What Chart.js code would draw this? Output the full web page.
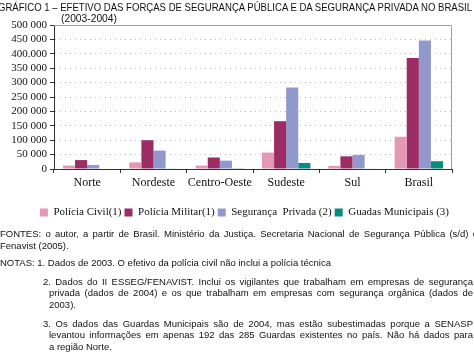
<!DOCTYPE html>
<html>
<head>
<meta charset="utf-8">
<script src="https://cdn.jsdelivr.net/npm/chart.js@4.4.1/dist/chart.umd.min.js"></script>
<style>
  body { margin: 0; width: 474px; height: 353px; background: #fff; overflow: hidden; position: relative; }
  #wrap { position: absolute; left: 0; top: 0; width: 474px; height: 230px; }
  .t { position: absolute; white-space: nowrap; font-family: "Liberation Sans", Arial, sans-serif; color: #111; }
  .title { font-size: 11px; transform-origin: 0 50%; }
  .note { font-size: 9.5px; line-height: 12px; }
  .just { text-align: justify; text-align-last: justify; white-space: normal; }
</style>
</head>
<body>
<div id="wrap"><canvas id="barChart"></canvas></div>

<div class="t title" id="t1" style="left:-2px; top:1px;">GRÁFICO 1 – EFETIVO DAS FORÇAS DE SEGURANÇA PÚBLICA E DA SEGURANÇA PRIVADA NO BRASIL</div>
<div class="t title" id="t2" style="left:61px; top:12px;">(2003-2004)</div>

<div class="t note just" style="left:0; top:228px; width:478px;">FONTES: o autor, a partir de Brasil. Ministério da Justiça. Secretaria Nacional de Segurança Pública (s/d) e</div>
<div class="t note" style="left:0; top:240px;">Fenavist (2005).</div>
<div class="t note" style="left:0; top:257px;">NOTAS: 1. Dados de 2003. O efetivo da polícia civil não inclui a polícia técnica</div>
<div class="t note just" style="left:43px; top:276px; width:430px;">2. Dados do II ESSEG/FENAVIST. Inclui os vigilantes que trabalham em empresas de segurança</div>
<div class="t note just" style="left:49px; top:287px; width:424px;">privada (dados de 2004) e os que trabalham em empresas com segurança orgânica (dados de</div>
<div class="t note" style="left:49px; top:299px;">2003).</div>
<div class="t note just" style="left:43px; top:318px; width:430px;">3. Os dados das Guardas Municipais são de 2004, mas estão subestimadas porque a SENASP</div>
<div class="t note just" style="left:49px; top:329px; width:424px;">levantou informações em apenas 192 das 285 Guardas existentes no país. Não há dados para</div>
<div class="t note" style="left:49px; top:341px;">a região Norte.</div>

<script>
// squeeze the title to the width it has in the print
const t1 = document.getElementById('t1');
t1.style.transform = 'scaleX(' + (474 / t1.offsetWidth) + ')';
const t2 = document.getElementById('t2');
t2.style.transform = 'scaleX(' + (56 / t2.offsetWidth) + ')';

const categories = ['Norte', 'Nordeste', 'Centro-Oeste', 'Sudeste', 'Sul', 'Brasil'];
const policiaCivil = [12000, 23000, 12000, 57000, 11000, 112000];
const policiaMilitar = [31000, 100000, 40000, 166000, 44000, 385000];
const segurancaPrivada = [14000, 64000, 29000, 283000, 49000, 446000];
const guardasMunicipais = [null, 2000, 1000, 21000, 1500, 27000];
const yTickLabels = ['0', '50 000', '100 000', '150 000', '200 000', '250 000', '300 000', '350 000', '400.000', '450 000', '500 000'];

const serif = "'Liberation Serif', 'Times New Roman', serif";
Chart.defaults.font.family = serif;

const frame = {
    id: 'frame',
    afterDraw(chart) {
        const a = chart.chartArea;
        const c = chart.ctx;
        c.save();
        c.strokeStyle = '#a0a0a0';
        c.lineWidth = 1;
        c.beginPath();
        c.moveTo(a.left, a.top + 0.5);
        c.lineTo(a.right - 0.5, a.top + 0.5);
        c.lineTo(a.right - 0.5, a.bottom);
        c.stroke();
        c.restore();
    }
};

const ctx = document.getElementById('barChart').getContext('2d');
const myChart = new Chart(ctx, {
    type: 'bar',
    data: {
        labels: categories,
        datasets: [
            { label: 'Polícia Civil(1)', data: policiaCivil, backgroundColor: '#e597b6' },
            { label: 'Polícia Militar(1)', data: policiaMilitar, backgroundColor: '#9c2c64' },
            { label: 'Segurança  Privada (2)', data: segurancaPrivada, backgroundColor: '#9199cc' },
            { label: 'Guadas Municipais (3)', data: guardasMunicipais, backgroundColor: '#0b8a80' }
        ]
    },
    options: {
        responsive: true,
        maintainAspectRatio: false,
        animation: false,
        layout: { padding: { left: 0, right: 22, top: 25, bottom: 2 } },
        datasets: { bar: { categoryPercentage: 0.73, barPercentage: 1.0, borderWidth: 0 } },
        plugins: {
            tooltip: { enabled: false },
            legend: {
                position: 'bottom',
                align: 'end',
                labels: {
                    boxWidth: 8,
                    boxHeight: 8,
                    padding: 3,
                    color: '#111',
                    font: { family: serif, size: 11 }
                }
            }
        },
        scales: {
            x: {
                afterFit(scale) { scale.height = 35; },
                grid: { drawOnChartArea: false, drawTicks: true, tickLength: 4, tickColor: '#333', offset: true },
                border: { color: '#333', width: 1 },
                ticks: { color: '#111', padding: 3, autoSkip: false, maxRotation: 0, minRotation: 0, font: { family: serif, size: 12 } }
            },
            y: {
                min: 0,
                max: 500000,
                afterFit(scale) { scale.width = 54; },
                grid: { color: '#bdbdbd', lineWidth: 1, tickColor: '#333', tickLength: 4 },
                border: { color: '#333', width: 1, dash: [1, 4] },
                ticks: {
                    stepSize: 50000,
                    autoSkip: false,
                    padding: 3,
                    color: '#111',
                    font: { family: serif, size: 11 },
                    callback: (value, index) => yTickLabels[index]
                }
            }
        }
    },
    plugins: [frame]
});
</script>
</body>
</html>
